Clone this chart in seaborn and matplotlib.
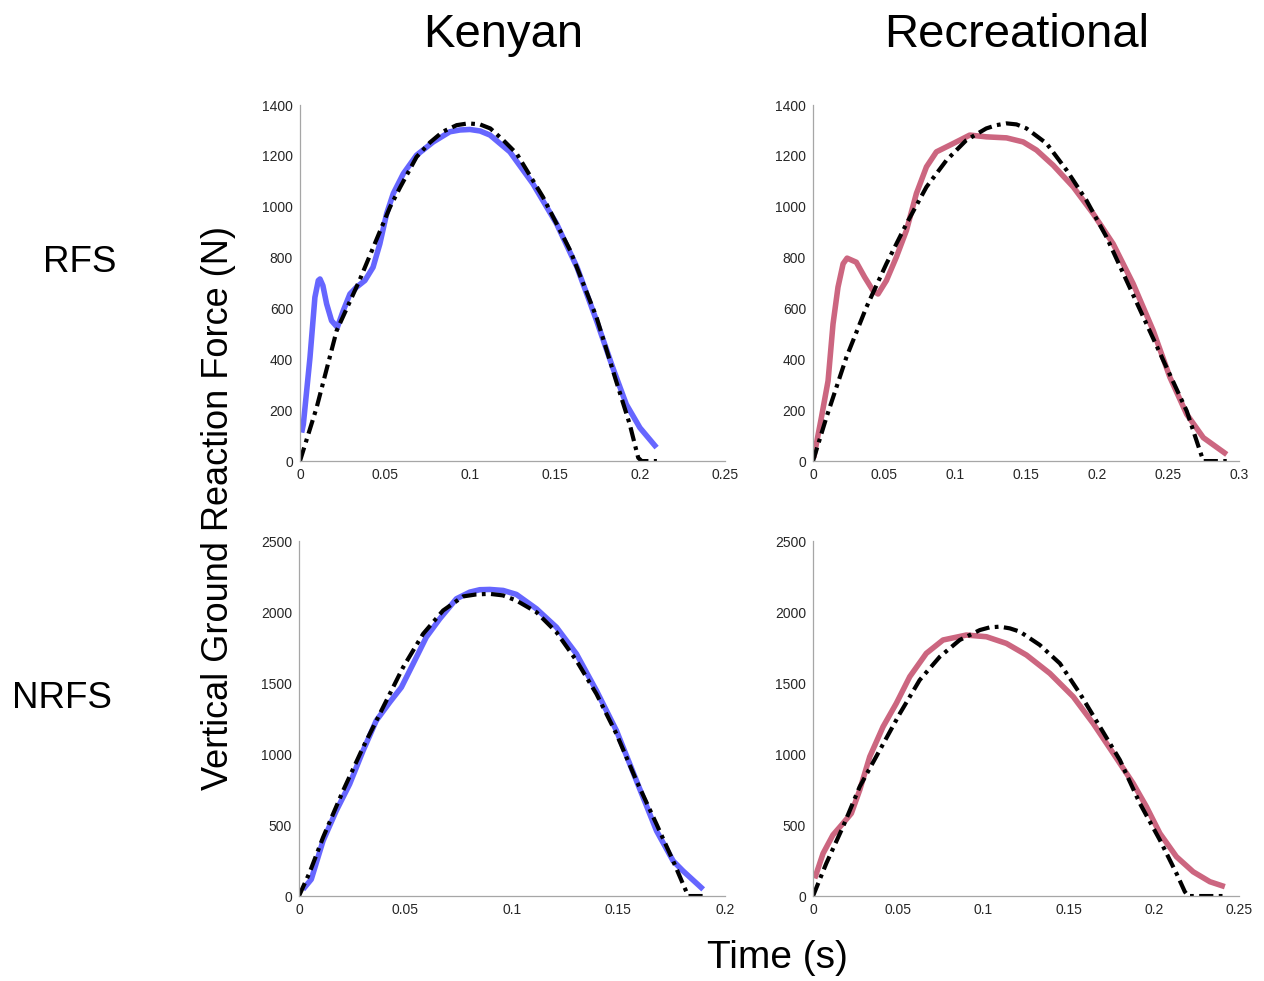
import matplotlib
matplotlib.use("Agg")
import matplotlib.pyplot as plt
import seaborn as sns
import pandas as pd

sns.set_style("white")
plt.rcParams["font.family"] = ["Liberation Sans", "DejaVu Sans"]
plt.rcParams["text.color"] = "black"

# ---- Kenyan, rearfoot strike (RFS) ----
ken_rfs_t = [0.001, 0.002, 0.0059, 0.0088, 0.0108, 0.0118, 0.0135, 0.0157, 0.0186, 0.022,
             0.0255, 0.0294, 0.0333, 0.0382, 0.043, 0.047, 0.051, 0.0549, 0.0608, 0.0686,
             0.0784, 0.0882, 0.0941, 0.100, 0.106, 0.1118, 0.1235, 0.137, 0.151, 0.163,
             0.1745, 0.184, 0.192, 0.200, 0.2098]
ken_rfs_f = [112, 145, 407, 644, 710, 716, 690, 618, 552, 526,
             592, 657, 684, 710, 762, 854, 973, 1052, 1130, 1203,
             1255, 1295, 1302, 1304, 1298, 1282, 1216, 1091, 933, 762,
             552, 368, 223, 131, 53]
ken_rfs_fit_t = [0.0, 0.0098, 0.0216, 0.035, 0.053, 0.0588, 0.0686, 0.0765, 0.084, 0.0922,
                 0.099, 0.1059, 0.112, 0.1196, 0.1275, 0.143, 0.159, 0.1745, 0.186, 0.194,
                 0.199, 0.201, 0.21]
ken_rfs_fit_f = [0, 210, 513, 710, 999, 1075, 1196, 1253, 1295, 1321,
                 1328, 1324, 1308, 1262, 1209, 1038, 828, 565, 315, 145,
                 13, 0, 0]

# ---- Recreational, rearfoot strike (RFS) ----
rec_rfs_t = [0.0005, 0.0059, 0.0106, 0.0141, 0.0176, 0.0212, 0.024, 0.0305, 0.0364, 0.0423,
             0.0458, 0.0517, 0.0587, 0.0658, 0.0728, 0.0799, 0.0869, 0.0963, 0.1034, 0.1104,
             0.1222, 0.1363, 0.148, 0.1574, 0.1692, 0.1833, 0.1973, 0.2114, 0.2255, 0.2396,
             0.2514, 0.2632, 0.2749, 0.2914]
rec_rfs_f = [13, 171, 315, 539, 684, 776, 798, 782, 723, 670,
             657, 710, 802, 907, 1052, 1157, 1216, 1242, 1262, 1282,
             1275, 1271, 1255, 1223, 1163, 1078, 973, 854, 697, 513,
             329, 184, 92, 26]
rec_rfs_fit_t = [0.0, 0.0094, 0.0235, 0.0376, 0.0517, 0.0658, 0.0799, 0.094, 0.108, 0.122,
                 0.1292, 0.1363, 0.1433, 0.1504, 0.1645, 0.1786, 0.1926, 0.2067, 0.2208, 0.2349,
                 0.249, 0.2632, 0.2702, 0.2749, 0.2914]
rec_rfs_fit_f = [0, 171, 408, 605, 776, 933, 1078, 1183, 1262, 1308,
                 1321, 1328, 1324, 1308, 1249, 1144, 1025, 881, 710, 539,
                 368, 197, 79, 0, 0]

# ---- Kenyan, non-rearfoot strike (NRFS) ----
ken_nrfs_t = [0.0019, 0.0058, 0.0113, 0.0175, 0.0238, 0.0301, 0.0363, 0.0426, 0.0481, 0.0536,
              0.0598, 0.0661, 0.0739, 0.0802, 0.0849, 0.0896, 0.0959, 0.1021, 0.1115, 0.1209,
              0.1303, 0.1397, 0.1491, 0.1585, 0.1679, 0.1757, 0.1804, 0.1898]
ken_nrfs_f = [47, 118, 388, 600, 788, 1023, 1235, 1364, 1470, 1635,
              1823, 1952, 2093, 2140, 2157, 2159, 2152, 2124, 2023, 1893,
              1705, 1446, 1164, 811, 459, 247, 176, 47]
ken_nrfs_fit_t = [0.0, 0.005, 0.0113, 0.0207, 0.0301, 0.0395, 0.0489, 0.0583, 0.0677, 0.0771,
                  0.0833, 0.0896, 0.0958, 0.1021, 0.1115, 0.1209, 0.1303, 0.1397, 0.1491, 0.1585,
                  0.1679, 0.1757, 0.1804, 0.1828, 0.19]
ken_nrfs_fit_f = [0, 165, 412, 741, 1047, 1329, 1611, 1846, 2011, 2110,
                  2124, 2128, 2117, 2081, 1999, 1858, 1658, 1423, 1141, 811,
                  506, 247, 82, 0, 0]

# ---- Recreational, non-rearfoot strike (NRFS) ----
rec_nrfs_t = [0.001, 0.0059, 0.0117, 0.0176, 0.0225, 0.0274, 0.0333, 0.0411, 0.0489, 0.0568,
              0.0665, 0.0763, 0.090, 0.1018, 0.1135, 0.1253, 0.139, 0.1527, 0.1644, 0.1762,
              0.1879, 0.1957, 0.2036, 0.2133, 0.2231, 0.2329, 0.2417]
rec_nrfs_f = [124, 300, 430, 512, 582, 746, 981, 1192, 1357, 1545,
              1709, 1803, 1838, 1826, 1779, 1697, 1568, 1404, 1216, 1005,
              793, 629, 441, 277, 171, 101, 66]
rec_nrfs_fit_t = [0.0, 0.0078, 0.0176, 0.0274, 0.0392, 0.051, 0.0626, 0.0744, 0.0861, 0.0979,
                  0.1037, 0.1096, 0.1155, 0.1214, 0.1331, 0.1449, 0.1566, 0.1684, 0.1801, 0.1918,
                  0.2036, 0.2133, 0.2182, 0.2202, 0.2417]
rec_nrfs_fit_f = [0, 230, 488, 770, 1028, 1286, 1521, 1685, 1803, 1873,
                  1892, 1897, 1885, 1862, 1768, 1638, 1427, 1192, 958, 653,
                  394, 160, 31, 0, 0]

col_titles = ["Kenyan", "Recreational"]
row_titles = ["RFS", "NRFS"]
xlabel = "Time (s)"
ylabel = "Vertical Ground Reaction Force (N)"

BLUE = "#6666ff"
PINK = "#cc6680"
AXIS_GRAY = "#a6a6a6"

panels = [
    # (left, bottom, width, height), measured, fit, colour, xmax, xticks, ymax, ystep
    ((0.2373, 0.530, 0.3362, 0.3629), (ken_rfs_t, ken_rfs_f), (ken_rfs_fit_t, ken_rfs_fit_f),
     BLUE, 0.25, [0, 0.05, 0.1, 0.15, 0.2, 0.25], 1400, 200),
    ((0.6432, 0.530, 0.3370, 0.3629), (rec_rfs_t, rec_rfs_f), (rec_rfs_fit_t, rec_rfs_fit_f),
     PINK, 0.3, [0, 0.05, 0.1, 0.15, 0.2, 0.25, 0.3], 1400, 200),
    ((0.2365, 0.0866, 0.3370, 0.3619), (ken_nrfs_t, ken_nrfs_f), (ken_nrfs_fit_t, ken_nrfs_fit_f),
     BLUE, 0.2, [0, 0.05, 0.1, 0.15, 0.2], 2500, 500),
    ((0.6432, 0.0866, 0.3370, 0.3619), (rec_nrfs_t, rec_nrfs_f), (rec_nrfs_fit_t, rec_nrfs_fit_f),
     PINK, 0.25, [0, 0.05, 0.1, 0.15, 0.2, 0.25], 2500, 500),
]

fig = plt.figure(figsize=(12.64, 9.81), dpi=100)

for rect, meas, fit, colour, xmax, xticks, ymax, ystep in panels:
    ax = fig.add_axes(rect)
    dm = pd.DataFrame({"t": meas[0], "F": meas[1]})
    df = pd.DataFrame({"t": fit[0], "F": fit[1]})
    sns.lineplot(data=dm, x="t", y="F", ax=ax, color=colour, lw=4.0,
                 sort=False, estimator=None, solid_capstyle="butt",
                 solid_joinstyle="round")
    sns.lineplot(data=df, x="t", y="F", ax=ax, color="black", lw=3.0,
                 sort=False, estimator=None, linestyle=(0, (3.4, 1.3, 0.9, 1.3)),
                 dash_capstyle="butt", dash_joinstyle="round")
    ax.set_xlim(0, xmax)
    ax.set_ylim(0, ymax)
    ax.set_xticks(xticks)
    ax.set_xticklabels([f"{v:g}" for v in xticks])
    yt = list(range(0, ymax + 1, ystep))
    ax.set_yticks(yt)
    ax.set_yticklabels([str(v) for v in yt])
    ax.set_xlabel("")
    ax.set_ylabel("")
    for side in ("top", "right"):
        ax.spines[side].set_visible(False)
    for side in ("left", "bottom"):
        ax.spines[side].set_color(AXIS_GRAY)
        ax.spines[side].set_linewidth(0.9)
    ax.tick_params(direction="in", length=4, width=0.9, color=AXIS_GRAY,
                   labelsize=10, labelcolor="#262626", pad=5)
    ax.patch.set_alpha(0)

H = 981.0
W = 1264.0
fig.text(503 / W, 1 - 47 / H, col_titles[0], fontsize=34, ha="center", va="baseline")
fig.text(1017 / W, 1 - 47 / H, col_titles[1], fontsize=34, ha="center", va="baseline")
fig.text(80 / W, 1 - 272 / H, row_titles[0], fontsize=26.5, ha="center", va="baseline")
fig.text(62 / W, 1 - 708 / H, row_titles[1], fontsize=26.5, ha="center", va="baseline")
fig.text(777 / W, 1 - 968 / H, xlabel, fontsize=28, ha="center", va="baseline")
fig.text(219 / W, 1 - 508 / H, ylabel, fontsize=26, ha="center", va="center", rotation=90)

fig.savefig("out.png", dpi=100)
